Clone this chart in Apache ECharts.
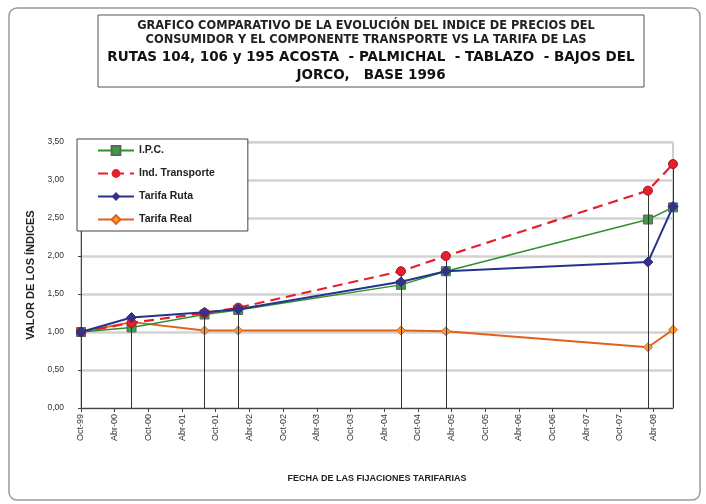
<!DOCTYPE html>
<html>
<head>
<meta charset="utf-8">
<script src="https://cdn.jsdelivr.net/npm/echarts@6/dist/echarts.min.js"></script>
<style>html,body{margin:0;padding:0;background:#fff}#c{width:706px;height:504px}</style>
</head>
<body>
<div id="c"></div>
<script>
// Fechas de fijación tarifaria (puntos)
var fixDates = ['1999-10-01','2000-07-01','2001-08-01','2002-02-01','2004-07-01','2005-03-01','2008-03-01','2008-07-15'];
// Series
var ipc        = [1.00, 1.06, 1.23, 1.29, 1.62, 1.80, 2.48, 2.64];
var transporte = [1.00, 1.12, 1.25, 1.32, 1.80, 2.00, 2.86, 3.21];
var tarifaRuta = [1.00, 1.19, 1.26, 1.30, 1.66, 1.80, 1.92, 2.65];
var tarifaReal = [1.00, 1.13, 1.02, 1.02, 1.02, 1.01, 0.80, 1.03];
// Etiquetas del eje X (cada 6 meses desde Oct-99)
var tickLabels = ['Oct-99','Abr-00','Oct-00','Abr-01','Oct-01','Abr-02','Oct-02','Abr-03','Oct-03','Abr-04','Oct-04','Abr-05','Oct-05','Abr-06','Oct-06','Abr-07','Oct-07','Abr-08'];
var titleLines = ['GRAFICO COMPARATIVO DE LA EVOLUCIÓN DEL INDICE DE PRECIOS DEL','CONSUMIDOR Y EL COMPONENTE TRANSPORTE VS LA TARIFA DE LAS','RUTAS 104, 106 y 195 ACOSTA  - PALMICHAL  - TABLAZO  - BAJOS DEL','JORCO,   BASE 1996'];
var seriesNames = ['I.P.C.','Ind. Transporte','Tarifa Ruta','Tarifa Real'];

function monthsFromStart(s){
  var p = s.split('-').map(Number);
  return (p[0]-1999)*12 + (p[1]-10) + (p[2]-1)/30;
}
var xs = fixDates.map(monthsFromStart);
function pairs(arr){ return arr.map(function(v,i){ return [xs[i], v]; }); }

var dropLines = xs.map(function(x,i){
  var top = Math.max(ipc[i], transporte[i], tarifaRuta[i], tarifaReal[i]);
  return [{coord:[x,0]},{coord:[x,top]}];
});

var FONT = '"Liberation Sans", Arial, sans-serif';
var TFONT = '"DejaVu Sans", sans-serif';
var chart = echarts.init(document.getElementById('c'), null, {renderer:'canvas'});
chart.setOption({
  backgroundColor:'#fff',
  animation:false,
  graphic:[
    {type:'rect', shape:{x:9,y:8,width:691,height:492,r:8}, style:{fill:'none',stroke:'#9a9a9a',lineWidth:1.5}, z:-1},
    {type:'rect', shape:{x:98,y:15,width:546,height:72}, style:{fill:'#fff',stroke:'#555',lineWidth:1}},
    {type:'text', x:366, y:26, style:{text:titleLines[0], font:'bold 11.4px '+TFONT, fill:'#222', align:'center', verticalAlign:'middle'}},
    {type:'text', x:366, y:40, style:{text:titleLines[1], font:'bold 11.4px '+TFONT, fill:'#222', align:'center', verticalAlign:'middle'}},
    {type:'text', x:371, y:57, style:{text:titleLines[2], font:'bold 13.5px '+TFONT, fill:'#111', align:'center', verticalAlign:'middle'}},
    {type:'text', x:371, y:75, style:{text:titleLines[3], font:'bold 13.5px '+TFONT, fill:'#111', align:'center', verticalAlign:'middle'}}
  ],
  legend:{
    orient:'vertical', left:77, top:139,
    data:seriesNames,
    itemWidth:36, itemHeight:11, itemGap:12,
    padding:[6,33,6,20],
    backgroundColor:'#fff', borderColor:'#444', borderWidth:1,
    textStyle:{fontFamily:FONT, fontWeight:'bold', fontSize:10.5, color:'#222'}
  },
  grid:{left:81, right:33, top:142, bottom:96, show:true, borderColor:'#9a9a9a', borderWidth:1},
  xAxis:{
    type:'value', min:0, max:xs[xs.length-1], interval:6,
    name:'FECHA DE LAS FIJACIONES TARIFARIAS', nameLocation:'middle', nameGap:66,
    nameTextStyle:{fontFamily:FONT, fontWeight:'bold', fontSize:9, color:'#222'},
    axisLine:{lineStyle:{color:'#444', width:1}},
    axisTick:{show:true, length:4, lineStyle:{color:'#444'}},
    splitLine:{show:false},
    axisLabel:{rotate:90, fontFamily:FONT, fontSize:9, color:'#333', margin:6, showMaxLabel:false,
      formatter:function(v){ var i=Math.round(v/6); return (Math.abs(v-i*6)<1e-6 && tickLabels[i])?tickLabels[i]:''; }}
  },
  yAxis:{
    type:'value', min:0, max:3.5, interval:0.5,
    name:'VALOR DE LOS ÍNDICES', nameLocation:'middle', nameGap:43,
    nameTextStyle:{fontFamily:FONT, fontWeight:'bold', fontSize:11, color:'#222'},
    axisLine:{show:true, lineStyle:{color:'#444'}},
    axisTick:{show:true, length:3, lineStyle:{color:'#444'}},
    splitLine:{lineStyle:{color:'#d2d2d2', width:2.5}},
    axisLabel:{fontFamily:FONT, fontSize:8.5, color:'#333', margin:17,
      formatter:function(v){ return v.toFixed(2).replace('.',','); }}
  },
  series:[
    {name:'drops', type:'line', data:[], silent:true,
     markLine:{symbol:'none', silent:true, label:{show:false}, lineStyle:{color:'#333', width:1, type:'solid'}, data:dropLines}},
    {name:'Tarifa Real', type:'line', data:pairs(tarifaReal), z:3,
     lineStyle:{color:'#e2601c', width:2}, itemStyle:{color:'#f0a030', borderColor:'#e2601c', borderWidth:1},
     symbol:'diamond', symbolSize:9},
    {name:'I.P.C.', type:'line', data:pairs(ipc), z:4,
     lineStyle:{color:'#2f8f2f', width:1.5}, itemStyle:{color:'#3d9a46', borderColor:'#556b55', borderWidth:1},
     symbol:'rect', symbolSize:9},
    {name:'Ind. Transporte', type:'line', data:pairs(transporte), z:5,
     lineStyle:{color:'#e4202c', width:2.2, type:[10,6]}, itemStyle:{color:'#e4202c', borderColor:'#b01020'},
     symbol:'circle', symbolSize:9},
    {name:'Tarifa Ruta', type:'line', data:pairs(tarifaRuta), z:6,
     lineStyle:{color:'#24348e', width:2}, itemStyle:{color:'#3a2f8a', borderColor:'#24348e'},
     symbol:'diamond', symbolSize:10}
  ]
});
</script>
</body>
</html>
